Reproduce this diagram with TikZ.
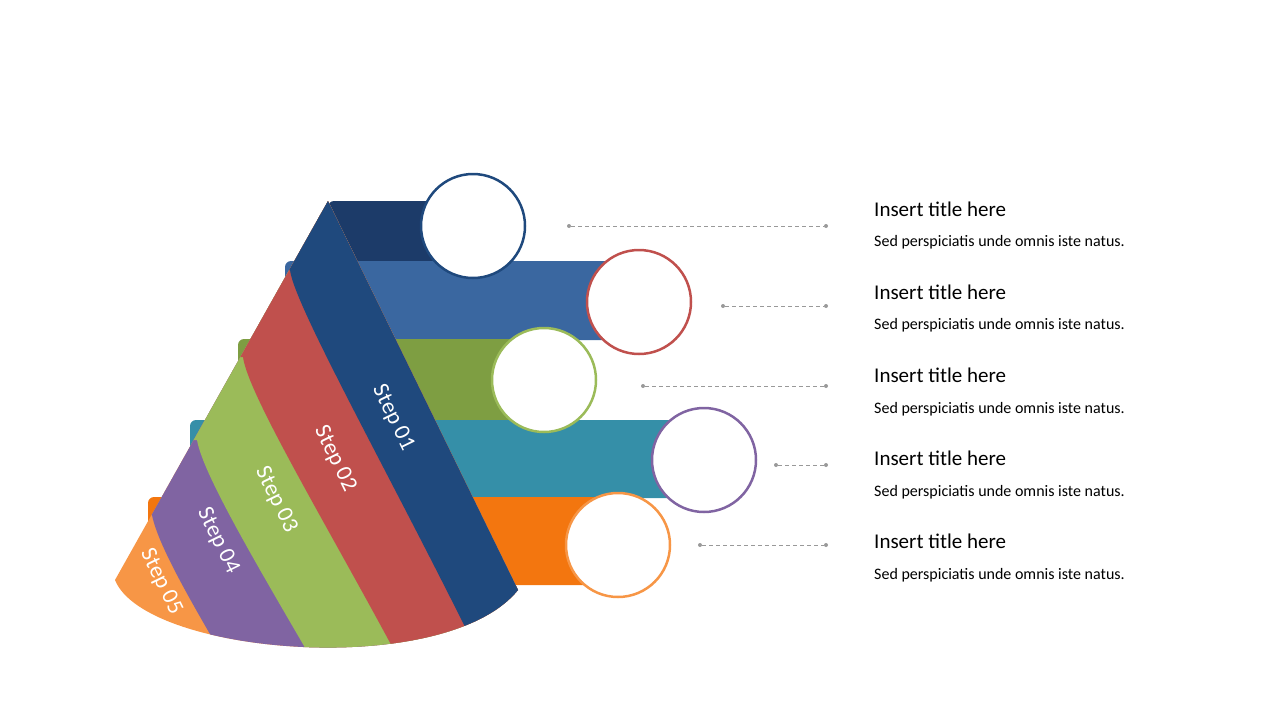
\documentclass[tikz,border=0pt]{standalone}
\usepackage{fontspec}
\setmainfont{Carlito}
\usepackage{tikz}
\definecolor{navy}{HTML}{1C3B69}
\definecolor{sblue}{HTML}{1F497D}
\definecolor{mblue}{HTML}{3A67A0}
\definecolor{sred}{HTML}{C0504D}
\definecolor{sgreen}{HTML}{9BBB59}
\definecolor{dgreen}{HTML}{7E9E42}
\definecolor{steal}{HTML}{358FA8}
\definecolor{spurple}{HTML}{8064A2}
\definecolor{sorange}{HTML}{F79646}
\definecolor{dorange}{HTML}{F3760F}
\tikzstyle{bar}=[rounded corners=6pt]
\tikzstyle{ring}=[circle, draw, fill=white, line width=2.5pt, minimum size=104pt, inner sep=0]
\tikzstyle{steplabel}=[text=white, font=\fontsize{23}{23}\selectfont, rotate=-64, inner sep=0]
\tikzstyle{lead}=[draw=gray!80, dashed, dash pattern=on 4pt off 3pt, line width=0.8pt]
\tikzstyle{leadtip}=[circle, fill=gray!80, inner sep=0, minimum size=4pt]
\tikzstyle{rowtitle}=[anchor=west, font=\fontsize{21}{21}\selectfont, inner sep=0]
\tikzstyle{rowdesc}=[anchor=west, font=\fontsize{16}{16}\selectfont, inner sep=0]
\begin{document}
\begin{tikzpicture}[x=1pt, y=-1pt]
        \useasboundingbox (0,0) rectangle (1280,720);
        % bars behind the cone
        \fill[navy, bar]    (328,201) rectangle (480,261);
        \fill[mblue, bar]   (285,261) rectangle (640,340);
        \fill[dgreen, bar]  (238,339) rectangle (545,421);
        \fill[steal, bar]   (190,420) rectangle (700,498);
        \fill[dorange, bar] (148,497) rectangle (620,585);
        % cone ribbons
        \begin{scope}
            \clip (328,201) -- (115,580) .. controls (145,655) and (445,680) .. (518,590) -- cycle;
            \fill[sorange] (0,0) rectangle (700,720);
            \fill[spurple] (0,515) -- (152,515) .. controls (158,545) and (190,600) .. (228,665) -- (700,720) -- (700,0) -- (0,0) -- cycle;
            \fill[sgreen]  (0,440) -- (197,440) .. controls (203,475) and (260,570) .. (318,670) -- (700,720) -- (700,0) -- (0,0) -- cycle;
            \fill[sred]    (0,357) -- (243,357) .. controls (248,395) and (330,530) .. (402,665) -- (700,720) -- (700,0) -- (0,0) -- cycle;
            \fill[sblue]   (0,270) -- (290,270) .. controls (294,305) and (390,475) .. (474,645) -- (700,720) -- (700,0) -- (0,0) -- cycle;
        \end{scope}
        \node[steplabel] (s1) at (393,418) {Step 01};
        \node[steplabel] (s2) at (335,459) {Step 02};
        \node[steplabel] (s3) at (276,500) {Step 03};
        \node[steplabel] (s4) at (218,541) {Step 04};
        \node[steplabel] (s5) at (161,582) {Step 05};
        % circles
        \node[ring, draw=sblue]   (c1) at (473,226) {};
        \node[ring, draw=sred]    (c2) at (639,302) {};
        \node[ring, draw=sgreen]  (c3) at (544,380) {};
        \node[ring, draw=spurple] (c4) at (704,460) {};
        \node[ring, draw=sorange] (c5) at (618,545) {};
        % leaders
        \node[leadtip] (a1) at (569,226) {}; \node[leadtip] (b1) at (826,226) {};
        \node[leadtip] (a2) at (723,306) {}; \node[leadtip] (b2) at (826,306) {};
        \node[leadtip] (a3) at (643,386) {}; \node[leadtip] (b3) at (826,386) {};
        \node[leadtip] (a4) at (776,465) {}; \node[leadtip] (b4) at (826,465) {};
        \node[leadtip] (a5) at (700,545) {}; \node[leadtip] (b5) at (826,545) {};
        \draw[lead] (a1) -- (b1);
        \draw[lead] (a2) -- (b2);
        \draw[lead] (a3) -- (b3);
        \draw[lead] (a4) -- (b4);
        \draw[lead] (a5) -- (b5);
        % texts
        \node[rowtitle] (t1) at (874,209) {Insert title here};
        \node[rowdesc]  (d1) at (874,242) {Sed perspiciatis unde omnis iste natus.};
        \node[rowtitle] (t2) at (874,292) {Insert title here};
        \node[rowdesc]  (d2) at (874,325) {Sed perspiciatis unde omnis iste natus.};
        \node[rowtitle] (t3) at (874,375) {Insert title here};
        \node[rowdesc]  (d3) at (874,409) {Sed perspiciatis unde omnis iste natus.};
        \node[rowtitle] (t4) at (874,458) {Insert title here};
        \node[rowdesc]  (d4) at (874,492) {Sed perspiciatis unde omnis iste natus.};
        \node[rowtitle] (t5) at (874,541) {Insert title here};
        \node[rowdesc]  (d5) at (874,575) {Sed perspiciatis unde omnis iste natus.};
\end{tikzpicture}
\end{document}
